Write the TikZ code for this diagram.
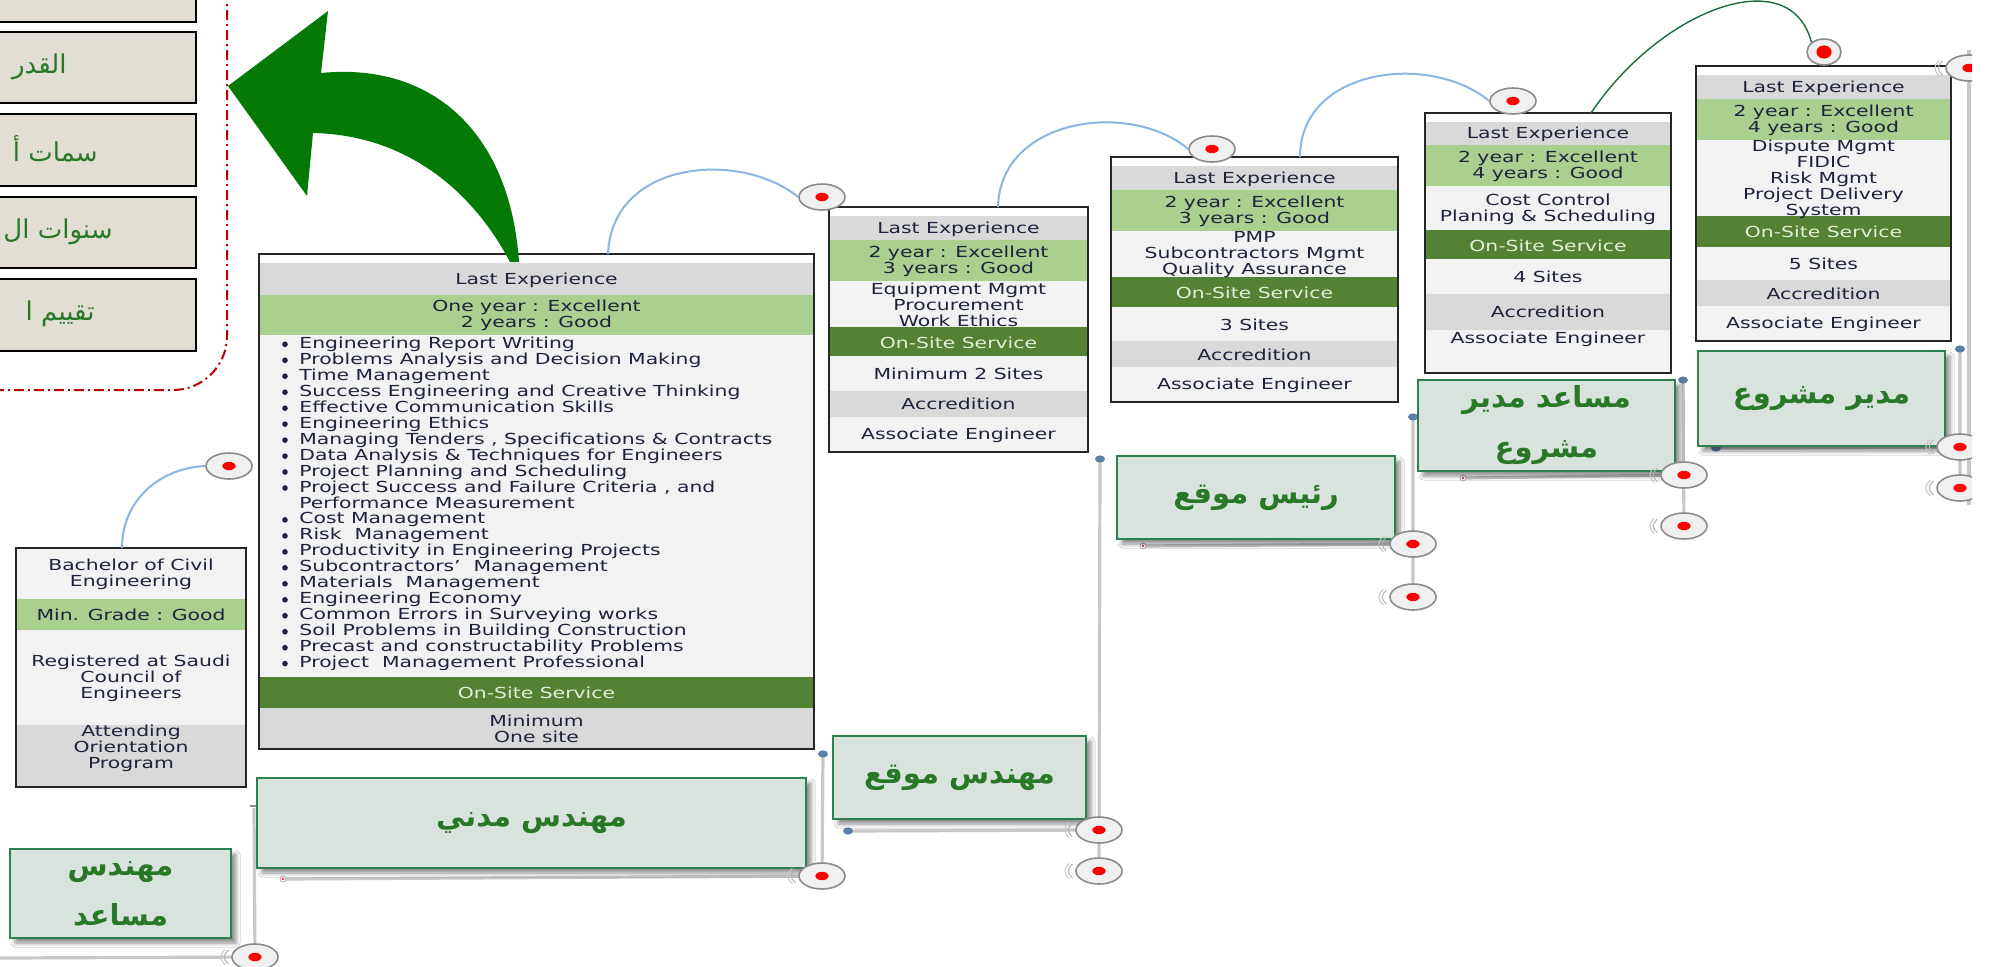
\documentclass[tikz,border=0pt]{standalone}
\usepackage{fontspec}
\usetikzlibrary{shapes.geometric,shadows.blur}
\TeXXeTstate=1
\newfontfamily\arabicfont[Script=Arabic]{DejaVu Sans}
\newfontfamily\cardfont[FakeStretch=1.34]{DejaVu Sans}
\definecolor{cardtext}{RGB}{30,35,60}
\definecolor{onsitetxt}{RGB}{226,239,218}
\definecolor{cgray}{RGB}{217,217,217}
\definecolor{cgreen}{RGB}{169,208,142}
\definecolor{clight}{RGB}{242,242,242}
\definecolor{cdark}{RGB}{84,130,53}
\definecolor{arabgreen}{RGB}{40,120,40}
\definecolor{lblfill}{RGB}{217,227,221}
\definecolor{lblborder}{RGB}{46,128,80}
\definecolor{beigefill}{RGB}{227,222,211}
\definecolor{arcblue}{RGB}{141,180,226}
\definecolor{thinarc}{RGB}{25,110,60}
\definecolor{bigarrow}{RGB}{4,122,4}
\definecolor{redframe}{RGB}{192,0,0}
\definecolor{tlgray}{RGB}{200,200,200}
\definecolor{tgtborder}{RGB}{140,140,140}
\definecolor{tgtfill}{RGB}{240,240,240}
\definecolor{bluedot}{RGB}{91,128,168}
\tikzset{
  cardtxt/.style={font=\cardfont\fontsize{7.6}{8}\selectfont, text=cardtext, align=center, inner sep=0pt},
  onsite/.style={cardtxt, text=onsitetxt},
  cardborder/.style={draw=black!85, line width=0.9pt},
  lbl/.style={draw=lblborder, fill=lblfill, line width=0.7pt, text=arabgreen,
    font=\arabicfont\bfseries\fontsize{14.5}{25}\selectfont, align=center, inner sep=0pt,
    blur shadow={shadow xshift=2.5pt, shadow yshift=-2.5pt, shadow blur radius=2pt, shadow opacity=45}},
  beigebox/.style={draw=black, fill=beigefill, line width=1pt, inner sep=0pt},
  beigetxt/.style={text=arabgreen, font=\arabicfont\fontsize{13}{16}\selectfont, inner sep=0pt},
  tgt/.style={ellipse, draw=tgtborder, fill=tgtfill, line width=0.8pt, inner sep=0pt, minimum width=23pt, minimum height=13pt},
  tline/.style={draw=tlgray, line width=1.6pt},
  arcline/.style={draw=arcblue, line width=1pt},
  frameline/.style={draw=redframe, line width=1pt, dash pattern=on 5pt off 2pt on 1pt off 2pt, rounded corners=27pt}
}
\newcommand{\rowfill}[5]{\fill[#5] (#1,#2) rectangle (#3,#4);}
\newcommand{\litem}[3]{\fill[cardtext] (285,#2+1) circle (1.4pt); \node[cardtxt, anchor=base west, name=#1] at (299,#2+5) {#3};}
\newcommand{\reddot}[1]{\fill[red] (#1.center) ellipse [x radius=3.3pt, y radius=2.1pt];}
\newcommand{\tsh}[1]{\draw[gray!60, line width=0.5pt] (#1.center) ++(-13.3pt,3.4pt) arc[start angle=150,end angle=210,x radius=15.4pt,y radius=6.8pt];
  \draw[gray!45, line width=0.5pt] (#1.center) ++(-14.8pt,3.8pt) arc[start angle=150,end angle=210,x radius=17pt,y radius=7.6pt];}
\newcommand{\bdot}[2]{\fill[bluedot] (#1,#2) ellipse [x radius=2.5pt, y radius=1.8pt];}
\newcommand{\rmark}[2]{\draw[gray!60, line width=0.4pt, fill=white] (#1,#2) circle (1.5pt); \fill[red] (#1,#2) circle (0.6pt);}
\newcommand{\tnode}[3]{\node[tgt, name=#1] at (#2,#3) {}; \reddot{#1}\tsh{#1}}
\begin{document}
\begin{tikzpicture}[x=0.5pt,y=-0.5pt]
\useasboundingbox (0,0) rectangle (1998,966);
\fill[white] (0,0) rectangle (1998,966);
\clip (0,0) rectangle (1972,966);

% ---------- left legend boxes ----------
\draw[frameline] (227,-10) -- (227,390) -- (-10,390);
\node[beigebox, minimum width=128.5pt, minimum height=21.5pt, anchor=south east, name=B1] at (197,23) {};
\node[beigebox, minimum width=128.5pt, minimum height=35.5pt, anchor=north east, name=B2] at (197,31) {};
\node[beigebox, minimum width=128.5pt, minimum height=36pt, anchor=north east, name=B3] at (197,113) {};
\node[beigebox, minimum width=128.5pt, minimum height=35.5pt, anchor=north east, name=B4] at (197,196) {};
\node[beigebox, minimum width=128.5pt, minimum height=36pt, anchor=north east, name=B5] at (197,278) {};
\node[beigetxt, anchor=east, name=B2t] at (67,66.5) {\beginR القدر\endR};
\node[beigetxt, anchor=east, name=B3t] at (98,149) {\beginR سمات أ\endR};
\node[beigetxt, anchor=east, name=B4t] at (113,231.5) {\beginR سنوات ال\endR};
\node[beigetxt, anchor=east, name=B5t] at (95,314) {\beginR تقييم ا\endR};

% ---------- card 0 ----------
\fill[clight] (16,548) rectangle (246,787);
\rowfill{16}{599}{246}{630}{cgreen}
\rowfill{16}{725}{246}{787}{cgray}
\draw[cardborder] (16,548) rectangle (246,787);
\coordinate (c0top) at (122,548);
\node[cardtxt, name=c0a] at (131,574.5) {Bachelor of Civil\\Engineering};
\node[cardtxt, name=c0b] at (131,615) {Min. Grade : Good};
\node[cardtxt, name=c0c] at (131,678) {Registered at Saudi\\Council of\\Engineers};
\node[cardtxt, name=c0d] at (131,748) {Attending\\Orientation\\Program};

% ---------- card 1 ----------
\fill[white] (259,254) rectangle (814,749);
\rowfill{259}{263}{814}{295}{cgray}
\rowfill{259}{295}{814}{335}{cgreen}
\rowfill{259}{335}{814}{677}{clight}
\rowfill{259}{677}{814}{708}{cdark}
\rowfill{259}{708}{814}{749}{cgray}
\draw[cardborder] (259,254) rectangle (814,749);
\coordinate (c1top) at (608,254);
\node[cardtxt, name=c1a] at (536.5,280) {Last Experience};
\node[cardtxt, name=c1b] at (536.5,315) {One year : Excellent\\2 years : Good};
\litem{l1}{343.3}{Engineering Report Writing}
\litem{l2}{359.3}{Problems Analysis and Decision Making}
\litem{l3}{375.2}{Time Management}
\litem{l4}{391.2}{Success Engineering and Creative Thinking}
\litem{l5}{407.2}{Effective Communication Skills}
\litem{l6}{423.1}{Engineering Ethics}
\litem{l7}{439.1}{Managing Tenders , Specifications \& Contracts}
\litem{l8}{455.1}{Data Analysis \& Techniques for Engineers}
\litem{l9}{471.0}{Project Planning and Scheduling}
\litem{l10}{487.0}{Project Success and Failure Criteria , and}
\node[cardtxt, anchor=base west, name=l10b] at (299,508) {Performance Measurement};
\litem{l11}{518.9}{Cost Management}
\litem{l12}{534.9}{Risk\ \ Management}
\litem{l13}{550.9}{Productivity in Engineering Projects}
\litem{l14}{566.8}{Subcontractors’\ \ Management}
\litem{l15}{582.8}{Materials\ \ Management}
\litem{l16}{598.8}{Engineering Economy}
\litem{l17}{614.7}{Common Errors in Surveying works}
\litem{l18}{630.7}{Soil Problems in Building Construction}
\litem{l19}{646.7}{Precast and constructability Problems}
\litem{l20}{662.6}{Project\ \ Management Professional}
\node[onsite, name=c1c] at (536.5,693) {On-Site Service};
\node[cardtxt, name=c1d] at (536.5,729) {Minimum\\One site};

% ---------- card 2 ----------
\fill[white] (829,207) rectangle (1088,452);
\rowfill{829}{216}{1088}{240}{cgray}
\rowfill{829}{240}{1088}{281}{cgreen}
\rowfill{829}{281}{1088}{327}{clight}
\rowfill{829}{327}{1088}{356}{cdark}
\rowfill{829}{356}{1088}{391}{clight}
\rowfill{829}{391}{1088}{417}{cgray}
\rowfill{829}{417}{1088}{452}{clight}
\draw[cardborder] (829,207) rectangle (1088,452);
\coordinate (c2top) at (998,207);
\node[cardtxt, name=c2a] at (958.5,229) {Last Experience};
\node[cardtxt, name=c2b] at (958.5,261) {2 year : Excellent\\3 years : Good};
\node[cardtxt, name=c2c] at (958.5,304.5) {Equipment Mgmt\\Procurement\\Work Ethics};
\node[onsite, name=c2d] at (958.5,343) {On-Site Service};
\node[cardtxt, name=c2e] at (958.5,374) {Minimum 2 Sites};
\node[cardtxt, name=c2f] at (958.5,404) {Accredition};
\node[cardtxt, name=c2g] at (958.5,435) {Associate Engineer};

% ---------- card 3 ----------
\fill[white] (1111,157) rectangle (1398,402);
\rowfill{1111}{166}{1398}{190}{cgray}
\rowfill{1111}{190}{1398}{231}{cgreen}
\rowfill{1111}{231}{1398}{277}{clight}
\rowfill{1111}{277}{1398}{307}{cdark}
\rowfill{1111}{307}{1398}{341}{clight}
\rowfill{1111}{341}{1398}{367}{cgray}
\rowfill{1111}{367}{1398}{402}{clight}
\draw[cardborder] (1111,157) rectangle (1398,402);
\coordinate (c3top) at (1300,157);
\node[cardtxt, name=c3a] at (1254.5,179) {Last Experience};
\node[cardtxt, name=c3b] at (1254.5,211) {2 year : Excellent\\3 years : Good};
\node[cardtxt, name=c3c] at (1254.5,254.5) {PMP\\Subcontractors Mgmt\\Quality Assurance};
\node[onsite, name=c3d] at (1254.5,293) {On-Site Service};
\node[cardtxt, name=c3e] at (1254.5,325) {3 Sites};
\node[cardtxt, name=c3f] at (1254.5,354.5) {Accredition};
\node[cardtxt, name=c3g] at (1254.5,385) {Associate Engineer};

% ---------- card 4 ----------
\fill[white] (1425,113) rectangle (1671,373);
\rowfill{1425}{122}{1671}{145}{cgray}
\rowfill{1425}{145}{1671}{186}{cgreen}
\rowfill{1425}{186}{1671}{230}{clight}
\rowfill{1425}{230}{1671}{259}{cdark}
\rowfill{1425}{259}{1671}{294}{clight}
\rowfill{1425}{294}{1671}{330}{cgray}
\rowfill{1425}{330}{1671}{373}{clight}
\draw[cardborder] (1425,113) rectangle (1671,373);
\coordinate (c4top) at (1591,113);
\node[cardtxt, name=c4a] at (1548,134) {Last Experience};
\node[cardtxt, name=c4b] at (1548,166) {2 year : Excellent\\4 years : Good};
\node[cardtxt, name=c4c] at (1548,209) {Cost Control\\Planing \& Scheduling};
\node[onsite, name=c4d] at (1548,246) {On-Site Service};
\node[cardtxt, name=c4e] at (1548,277) {4 Sites};
\node[cardtxt, name=c4f] at (1548,312) {Accredition};
\node[cardtxt, name=c4g] at (1548,339) {Associate Engineer};

% ---------- card 5 ----------
\fill[white] (1696,66) rectangle (1951,341);
\rowfill{1696}{75}{1951}{99}{cgray}
\rowfill{1696}{99}{1951}{140}{cgreen}
\rowfill{1696}{140}{1951}{216}{clight}
\rowfill{1696}{216}{1951}{247}{cdark}
\rowfill{1696}{247}{1951}{280}{clight}
\rowfill{1696}{280}{1951}{306}{cgray}
\rowfill{1696}{306}{1951}{341}{clight}
\draw[cardborder] (1696,66) rectangle (1951,341);
\node[cardtxt, name=c5a] at (1823.5,88) {Last Experience};
\node[cardtxt, name=c5b] at (1823.5,120.5) {2 year : Excellent\\4 years : Good};
\node[cardtxt, name=c5c] at (1823.5,179.5) {Dispute Mgmt\\FIDIC\\Risk Mgmt\\Project Delivery\\System};
\node[onsite, name=c5d] at (1823.5,232) {On-Site Service};
\node[cardtxt, name=c5e] at (1823.5,264) {5 Sites};
\node[cardtxt, name=c5f] at (1823.5,293.5) {Accredition};
\node[cardtxt, name=c5g] at (1823.5,324) {Associate Engineer};

% ---------- big green arrow ----------
\fill[bigarrow] (228,86) -- (328,11) -- (321,73)
  .. controls (430,62) and (510,130) .. (519,262) -- (510,262)
  .. controls (475,195) and (410,135) .. (313,133) -- (307,196) -- cycle;

% ---------- top circles and arcs ----------
\node[tgt, name=C0] at (229,466) {};
\node[tgt, name=C2] at (822,197) {};
\node[tgt, name=C3] at (1212,149) {};
\node[tgt, name=C4] at (1513,101) {};
\node[tgt, name=C5, minimum width=17pt, minimum height=13pt] at (1824,52) {};
\draw[arcline] (c0top) .. controls (122,500) and (160,468) .. (C0.west);
\draw[arcline] (c1top) .. controls (612,160) and (740,150) .. (C2.west);
\draw[arcline] (c2top) .. controls (1000,118) and (1130,100) .. (C3.west);
\draw[arcline] (c3top) .. controls (1300,68) and (1430,52) .. (C4.west);
\draw[thinarc, line width=0.7pt] (c4top) .. controls (1660,10) and (1790,-40) .. (C5.north west);
\reddot{C0}\reddot{C2}\reddot{C3}\reddot{C4}
\fill[red] (C5.center) ellipse [x radius=3.8pt, y radius=3.3pt];

% ---------- timeline lines ----------
\coordinate (v0) at (254,808);
\coordinate (v1) at (823,754);
\coordinate (v2) at (1100,459);
\coordinate (v3) at (1413,417);
\coordinate (v4) at (1683,380);
\coordinate (v5) at (1960,349);
\coordinate (v6) at (1969,50);
\coordinate (v6b) at (1969,505);
\coordinate (h0) at (0,958);
\coordinate (h1) at (283,879);
\coordinate (h2) at (848,831);
\coordinate (h3) at (1143,546);
\coordinate (h4) at (1463,478);
\coordinate (h5) at (1716,448);
\coordinate (t0) at (255,957);
\coordinate (t1) at (822,876);
\coordinate (t2a) at (1099,830);
\coordinate (t2b) at (1099,871);
\coordinate (t3a) at (1413,544);
\coordinate (t3b) at (1413,597);
\coordinate (t4a) at (1684,475);
\coordinate (t4b) at (1684,526);
\coordinate (t5a) at (1960,447);
\coordinate (t5b) at (1960,488);
\draw[tline] (v0) -- (t0) (h0) -- (t0);
\draw[tline] (v1) -- (t1) (h1) -- (t1);
\draw[tline] (v2) -- (t2b) (h2) -- (t2a);
\draw[tline] (v3) -- (t3b) (h3) -- (t3a);
\draw[tline] (v4) -- (t4b) (h4) -- (t4a);
\draw[tline] (v5) -- (t5b) (h5) -- (t5a);
\draw[tline] (v6) -- (v6b);
\bdot{823}{754}\bdot{1100}{459}\bdot{1413}{417}\bdot{1683}{380}\bdot{1960}{349}
\bdot{848}{831}\bdot{1716}{448}
\rmark{283}{879}\rmark{1143}{546}\rmark{1463}{478}
\draw[tgtborder, line width=0.6pt] (250,806) -- (258,806);

% ---------- labels ----------
\node[lbl, minimum width=110.5pt, minimum height=44.5pt, name=L0] at (120.5,893.5) {\beginR مهندس\endR\\\beginR مساعد\endR};
\node[lbl, minimum width=274.5pt, minimum height=45pt, name=L1] at (531.5,823) {\beginR مهندس مدني\endR};
\node[lbl, minimum width=126.5pt, minimum height=41.5pt, name=L2] at (959.5,777.5) {\beginR مهندس موقع\endR};
\node[lbl, minimum width=139pt, minimum height=41.5pt, name=L3] at (1256,497.5) {\beginR رئيس موقع\endR};
\node[lbl, minimum width=128.5pt, minimum height=45.5pt, name=L4] at (1546.5,425.5) {\beginR مساعد مدير\endR\\\beginR مشروع\endR};
\node[lbl, minimum width=123.5pt, minimum height=47.5pt, name=L5] at (1821.5,398.5) {\beginR مدير مشروع\endR};

% ---------- timeline circles ----------
\tnode{T0}{255}{957}
\tnode{T1}{822}{876}
\tnode{T2a}{1099}{830}
\tnode{T2b}{1099}{871}
\tnode{T3a}{1413}{544}
\tnode{T3b}{1413}{597}
\tnode{T4a}{1684}{475}
\tnode{T4b}{1684}{526}
\tnode{T5a}{1960}{447}
\tnode{T5b}{1960}{488}
\tnode{T6}{1969}{68}
\end{tikzpicture}
\end{document}
